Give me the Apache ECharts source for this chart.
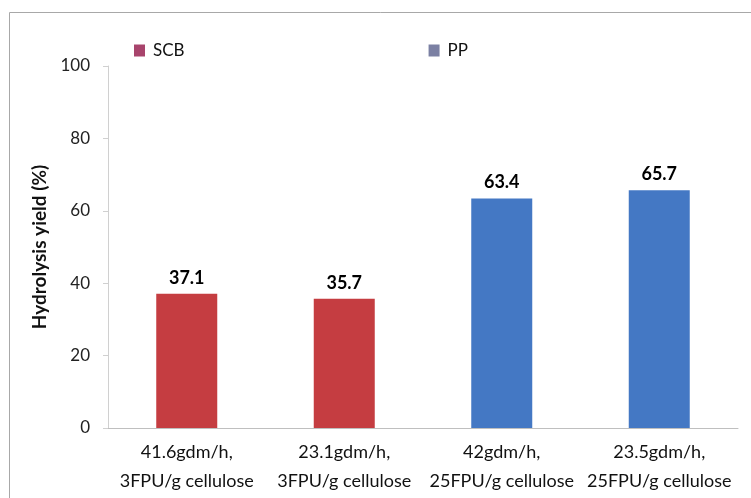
<!DOCTYPE html>
<html>
<head>
<meta charset="utf-8">
<script src="https://cdn.jsdelivr.net/npm/echarts@6/dist/echarts.min.js"></script>
<style>
html, body { margin: 0; padding: 0; background: #fff; }
#chart { width: 751px; height: 498px; }
</style>
</head>
<body>
<div id="chart"></div>
<script>
var categories = ['41.6gdm/h,\n3FPU/g cellulose', '23.1gdm/h,\n3FPU/g cellulose', '42gdm/h,\n25FPU/g cellulose', '23.5gdm/h,\n25FPU/g cellulose'];
var scbValues = [37.1, 35.7, '-', '-'];
var ppValues = ['-', '-', 63.4, 65.7];
var yTicks = [0, 20, 40, 60, 80, 100];

var fontName = 'Lato';

var myChart = echarts.init(document.getElementById('chart'));
var option = {
	backgroundColor: '#fff',
	animation: false,
	graphic: [{
		type: 'rect',
		shape: { x: 9.5, y: 12.5, width: 800, height: 600 },
		style: { fill: 'none', stroke: '#a8a8a8', lineWidth: 1 },
		z: -1
	}],
	legend: {
		left: 129,
		top: 37,
		itemWidth: 11,
		itemHeight: 12,
		itemGap: 244,
		textStyle: { fontFamily: fontName, fontSize: 17, color: '#111', padding: [0, 0, 0, 3] },
		data: [
			{ name: 'SCB', icon: 'rect', itemStyle: { color: '#a8446c' } },
			{ name: 'PP', icon: 'rect', itemStyle: { color: '#7b80a3' } }
		]
	},
	grid: {
		left: 108,
		right: 13,
		top: 66,
		bottom: 70,
		containLabel: false
	},
	xAxis: {
		type: 'category',
		data: categories,
		axisLine: { show: true, lineStyle: { color: '#bfbfbf', width: 1 } },
		axisTick: { show: false },
		axisLabel: {
			fontFamily: fontName,
			fontSize: 18,
			color: '#111',
			lineHeight: 29,
			margin: 10,
			interval: 0
		}
	},
	yAxis: {
		type: 'value',
		min: 0,
		max: 100,
		interval: 20,
		name: 'Hydrolysis yield (%)',
		nameLocation: 'middle',
		nameGap: 48,
		nameTextStyle: { fontFamily: fontName, fontSize: 19, fontWeight: 'bold', color: '#111' },
		axisLine: { show: true, lineStyle: { color: '#d0d0d0', width: 1 } },
		axisTick: { show: true, length: 5, lineStyle: { color: '#d0d0d0' } },
		splitLine: { show: false },
		axisLabel: {
			fontFamily: fontName,
			fontSize: 17,
			color: '#222',
			margin: 18,
			formatter: function (v) { return yTicks.indexOf(v) >= 0 ? String(v) : ''; }
		}
	},
	series: [
		{
			name: 'SCB',
			type: 'bar',
			data: scbValues,
			barWidth: 61,
			barGap: '-100%',
			itemStyle: { color: '#c53d41' },
			label: {
				show: true,
				position: 'top',
				distance: 7,
				fontFamily: fontName,
				fontSize: 18,
				fontWeight: 'bold',
				color: '#000'
			}
		},
		{
			name: 'PP',
			type: 'bar',
			data: ppValues,
			barWidth: 61,
			barGap: '-100%',
			itemStyle: { color: '#4478c4' },
			label: {
				show: true,
				position: 'top',
				distance: 7,
				fontFamily: fontName,
				fontSize: 18,
				fontWeight: 'bold',
				color: '#000'
			}
		}
	]
};
myChart.setOption(option);
</script>
</body>
</html>
